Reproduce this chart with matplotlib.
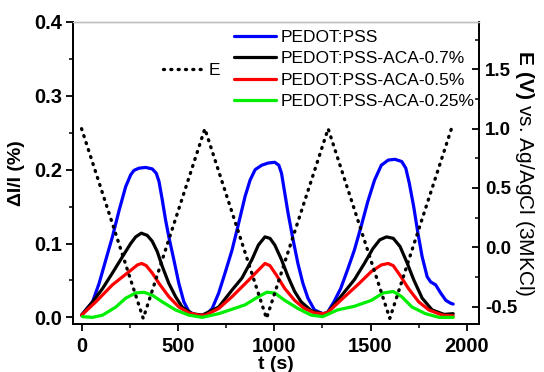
import matplotlib
matplotlib.use("Agg")
import matplotlib.pyplot as plt
from matplotlib.ticker import MultipleLocator

plt.rcParams['font.family'] = ['Liberation Sans', 'DejaVu Sans']
plt.rcParams['mathtext.fontset'] = 'custom'
plt.rcParams['mathtext.rm'] = 'Liberation Sans'
plt.rcParams['mathtext.bf'] = 'Liberation Sans:bold'

# ---- data ----
t_blue = [0, 57, 91, 126, 160, 195, 229, 255, 272, 298, 333, 367, 388, 402, 419, 436, 453, 479, 505, 531, 557, 591,
          644, 678, 712, 747, 781, 815, 849, 875, 901, 935, 969, 1003, 1024, 1038, 1055, 1072, 1098, 1123, 1149, 1175, 1209, 1252,
          1275, 1310, 1345, 1380, 1416, 1451, 1486, 1521, 1556, 1592, 1627, 1662, 1683, 1701, 1724, 1746, 1768, 1794, 1812,
          1838, 1864, 1891, 1917, 1929]
v_blue = [0.003, 0.021, 0.046, 0.078, 0.109, 0.145, 0.177, 0.193, 0.199, 0.202, 0.203, 0.201, 0.195, 0.184, 0.159, 0.132, 0.109, 0.078, 0.046, 0.021, 0.008, 0.003,
          0.003, 0.012, 0.033, 0.062, 0.091, 0.127, 0.164, 0.186, 0.200, 0.206, 0.209, 0.210, 0.206, 0.195, 0.168, 0.141, 0.105, 0.073, 0.046, 0.026, 0.010, 0.005,
          0.006, 0.021, 0.039, 0.064, 0.091, 0.123, 0.157, 0.186, 0.206, 0.213, 0.214, 0.211, 0.202, 0.182, 0.150, 0.114, 0.082, 0.055, 0.048,
          0.044, 0.033, 0.023, 0.019, 0.018]

t_black = [0, 57, 109, 160, 212, 255, 281, 310, 341, 367, 393, 419, 453, 488, 522, 574, 626,
           712, 781, 832, 884, 918, 952, 978, 1003, 1038, 1072, 1106, 1140, 1192, 1252,
           1275, 1345, 1416, 1468, 1512, 1548, 1583, 1618, 1653, 1688, 1724, 1768, 1820, 1882, 1929]
v_black = [0.003, 0.021, 0.039, 0.060, 0.082, 0.100, 0.109, 0.114, 0.111, 0.103, 0.089, 0.069, 0.046, 0.028, 0.014, 0.005, 0.003,
           0.014, 0.037, 0.053, 0.078, 0.098, 0.109, 0.107, 0.098, 0.078, 0.055, 0.035, 0.021, 0.009, 0.005,
           0.006, 0.028, 0.051, 0.073, 0.093, 0.105, 0.109, 0.107, 0.096, 0.075, 0.051, 0.026, 0.010, 0.004, 0.005]

t_red = [0, 74, 160, 247, 290, 312, 336, 367, 402, 453, 505, 557, 609,
         644, 712, 781, 866, 918, 952, 978, 1012, 1055, 1106, 1157, 1209, 1252,
         1275, 1345, 1433, 1504, 1556, 1592, 1618, 1653, 1697, 1750, 1803, 1873, 1929]
v_red = [0.003, 0.021, 0.044, 0.062, 0.071, 0.073, 0.070, 0.060, 0.046, 0.028, 0.014, 0.006, 0.003,
         0.003, 0.012, 0.028, 0.050, 0.064, 0.073, 0.070, 0.057, 0.039, 0.023, 0.012, 0.006, 0.005,
         0.006, 0.023, 0.044, 0.062, 0.071, 0.073, 0.070, 0.057, 0.039, 0.021, 0.010, 0.003, 0.002]

t_green = [5, 57, 109, 178, 229, 281, 324, 367, 419, 488, 557, 626,
           712, 781, 849, 918, 961, 1003, 1055, 1123, 1192, 1252,
           1328, 1416, 1504, 1565, 1618, 1662, 1715, 1785, 1856, 1929]
v_green = [0.001, 0.000, 0.003, 0.014, 0.026, 0.033, 0.034, 0.030, 0.021, 0.010, 0.003, 0.000,
           0.005, 0.011, 0.017, 0.028, 0.034, 0.033, 0.023, 0.012, 0.003, 0.001,
           0.010, 0.015, 0.023, 0.033, 0.035, 0.028, 0.014, 0.005, 0.000, 0.000]

t_E = [0, 320, 640, 960, 1280, 1600, 1920]
v_E = [1.0, -0.6, 1.0, -0.6, 1.0, -0.6, 1.0]

labels = ['PEDOT:PSS', 'PEDOT:PSS-ACA-0.7%', 'PEDOT:PSS-ACA-0.5%', 'PEDOT:PSS-ACA-0.25%']
colors = ['#0000ff', '#000000', '#ff0000', '#00ee00']
x_ticks = [0, 500, 1000, 1500, 2000]
y_ticks = [0.0, 0.1, 0.2, 0.3, 0.4]
y2_ticks = [-0.5, 0.0, 0.5, 1.0, 1.5]

fig = plt.figure(figsize=(5.44, 3.72), dpi=100)
ax = fig.add_axes([0.134, 0.129, 0.7465, 0.812])
ax2 = ax.twinx()

lines = []
for tt, vv, c, lab in zip([t_blue, t_black, t_red, t_green], [v_blue, v_black, v_red, v_green], colors, labels):
    l, = ax.plot(tt, vv, color=c, lw=2.3, label=lab, solid_joinstyle='round', solid_capstyle='round')
    lines.append(l)

lE, = ax2.plot(t_E, v_E, color='black', lw=2.4, linestyle=(0, (0.3, 1.9)),
               dash_capstyle='round', label='E')

ax.set_xlim(-45, 2063)
ax.set_ylim(-0.009, 0.4)
ax2.set_ylim(-0.647, 1.9)

ax.xaxis.set_minor_locator(MultipleLocator(250))
ax.yaxis.set_minor_locator(MultipleLocator(0.05))
ax2.yaxis.set_minor_locator(MultipleLocator(0.25))

for a in (ax, ax2):
    for s in a.spines.values():
        s.set_linewidth(1.3)
    a.spines['top'].set_color('#c0c0c0')
    a.spines['top'].set_linewidth(1.0)

ax.tick_params(which='major', direction='out', length=5, width=1.3, labelsize=14.5, pad=3)
ax.tick_params(which='minor', direction='out', length=3, width=1.1)
ax.tick_params(axis='x', which='major', pad=4)
ax2.tick_params(which='major', direction='in', length=5, width=1.3, labelsize=13.5, pad=4.5)
ax2.tick_params(which='minor', direction='in', length=3, width=1.1)

ax.set_xticks(x_ticks)
ax.set_xticklabels([str(v) for v in x_ticks], fontweight='bold')
ax.set_yticks(y_ticks)
ax.set_yticklabels(['%.1f' % v for v in y_ticks], fontweight='bold')
ax2.set_yticks(y2_ticks)
ax2.set_yticklabels(['%.1f' % v for v in y2_ticks], fontweight='bold')

ax.set_xlabel('t (s)', fontsize=14, fontweight='bold', labelpad=0)
ax.set_ylabel('\u0394I/I (%)', fontsize=14, fontweight='bold', labelpad=6)
ax2.set_ylabel(r'$\mathbf{E\ (V)}$ vs. Ag/AgCl (3MKCl)', fontsize=15, rotation=270,
               va='bottom', labelpad=-3)

leg1 = ax2.legend(handles=[lE], loc='upper left', bbox_to_anchor=(163/544, 1 - 63/372),
                  bbox_transform=fig.transFigure, frameon=False, fontsize=12.5,
                  handlelength=2.3, handletextpad=0.3, borderpad=0, borderaxespad=0)
leg2 = ax2.legend(handles=lines, loc='upper left', bbox_to_anchor=(234/544, 1 - 30/372),
                  bbox_transform=fig.transFigure, frameon=False, fontsize=12.5,
                  handlelength=2.4, handletextpad=0.3, borderpad=0, borderaxespad=0,
                  labelspacing=0.35)
ax2.add_artist(leg1)

fig.savefig('out.png', dpi=100)
